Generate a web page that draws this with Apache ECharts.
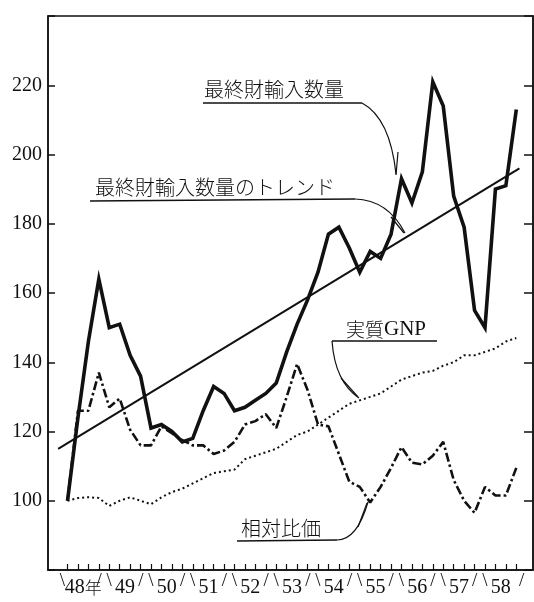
<!DOCTYPE html>
<html><head><meta charset="utf-8">
<script src="https://cdn.jsdelivr.net/npm/echarts@6/dist/echarts.min.js"></script>
<style>html,body{margin:0;padding:0;background:#fff}#c{width:534px;height:602px}</style>
</head><body><div id="c"></div>
<script>
// quarters 1948Q1 .. 1958Q4 (index 0..43)
const quarterCount = 44;
const yearLabels = ['48年','49','50','51','52','53','54','55','56','57','58'];
const yTicks = [100,120,140,160,180,200,220];
const importVals = [100,124,146,164,150,151,142,136,121,122,120,117,118,126,133,131,126,127,129,131,134,143,151,158,166,177,179,173,166,172,170,177,193,186,195,221,214,188,179,155,150,190,191,213];
const relPriceVals = [100,126,126,137,127,129.5,120.5,116,116,121.5,119.5,117.5,116,116,113.5,114.5,117,122,123,125,121,130,139.5,132,122,121.5,113.5,105.5,104,99.5,104,109.5,115.5,111,110.5,113,117,106,100,96.5,104,101.5,101.5,109.5];
const gnpVals = [100,100.8,101,100.8,98.5,100,101,100,99,101,102.5,103.5,105,106.5,108,108.5,109,112,113,114,115,117,119,120,122,124,126,128,129,130,131,133,135,136,137,137.5,139,140,142,142,143,144,146,147];
const trendQuarters = [-0.9, 43.3];
const trendVals = [115, 196];

const pairs = vals => vals.map((v,i)=>[i,v]);
const quarterTicks = Array.from({length: quarterCount}, (_,i)=>i);
const yearCenters = yearLabels.map((_,k)=>1.5+4*k);
const yearBounds = Array.from({length: yearLabels.length+1}, (_,k)=>-0.5+4*k);

const serif = '"Liberation Serif", "DejaVu Serif", serif';
const cjk = '"Noto Sans CJK JP", sans-serif';

const chart = echarts.init(document.getElementById('c'), null, {renderer:'canvas'});
const xBase = {type:'value', min:-1.87, max:44.6, gridIndex:0, splitLine:{show:false}};
chart.setOption({
  animation:false,
  backgroundColor:'#fff',
  grid:{left:48, right:1, top:16, bottom:32, show:true, borderColor:'#111', borderWidth:1.5, backgroundColor:'transparent'},
  xAxis:[
    Object.assign({}, xBase, {
      position:'bottom',
      axisLine:{show:true, onZero:false, lineStyle:{color:'#111', width:1.5}},
      axisTick:{show:true, inside:true, length:6, customValues:quarterTicks, lineStyle:{color:'#111', width:1.2}},
      axisLabel:{show:true, customValues:yearCenters, margin:8,
        formatter:v=>{const k=Math.round((v-1.5)/4); const s=yearLabels[k]||''; return s.endsWith('年')? '{n|'+s.slice(0,-1)+'}{c|年}' : '{n|'+s+'}';},
        rich:{n:{fontFamily:serif, fontSize:20, color:'#111'}, c:{fontFamily:cjk, fontSize:17, fontWeight:300, color:'#111'}}}
    }),
    Object.assign({}, xBase, {
      position:'bottom',
      axisLine:{show:false, onZero:false}, axisTick:{show:false},
      axisLabel:{show:true, customValues:yearBounds, margin:2, fontFamily:serif, fontSize:19, color:'#111',
        formatter:v=>{const k=Math.round((v+0.5)/4); if(k===0) return '\\'; if(k===yearLabels.length) return '/'; return '/ \\';}}
    })
  ],
  yAxis:[
    {type:'value', min:80, max:240, interval:20, position:'left',
     axisLine:{show:true, onZero:false, lineStyle:{color:'#111', width:1.5}},
     axisTick:{show:true, inside:true, length:7, lineStyle:{color:'#111', width:1.5}},
     axisLabel:{margin:6, fontFamily:serif, fontSize:20, color:'#111',
       formatter:v=> yTicks.indexOf(v)>=0 ? String(v) : ''},
     splitLine:{show:false}},
    {type:'value', min:80, max:240, interval:20, position:'right',
     axisLine:{show:true, onZero:false, lineStyle:{color:'#111', width:1.5}},
     axisTick:{show:true, inside:true, length:9, lineStyle:{color:'#111', width:1.5}},
     axisLabel:{show:false}, splitLine:{show:false}}
  ],
  series:[
    {name:'最終財輸入数量のトレンド', type:'line', data:trendQuarters.map((q,i)=>[q,trendVals[i]]), symbol:'none',
     lineStyle:{color:'#111', width:2}},
    {name:'実質GNP', type:'line', data:pairs(gnpVals), symbol:'none',
     lineStyle:{color:'#111', width:2, type:[2,3]}},
    {name:'相対比価', type:'line', data:pairs(relPriceVals), symbol:'none',
     lineStyle:{color:'#111', width:2.6, type:[9,3,2.5,3]}},
    {name:'最終財輸入数量', type:'line', data:pairs(importVals), symbol:'none',
     lineStyle:{color:'#111', width:3.6, join:'miter'}}
  ],
  graphic:[
    {type:'text', left:204, top:79, style:{text:'最終財輸入数量', fontFamily:cjk, fontWeight:300, fontSize:20, fill:'#111'}},
    {type:'line', shape:{x1:203,y1:103,x2:362,y2:103}, style:{stroke:'#111', lineWidth:1.5}},
    {type:'bezierCurve', shape:{x1:362,y1:103,x2:396,y2:174,cpx1:390,cpy1:118}, style:{stroke:'#111', lineWidth:1.2, fill:null}},
    {type:'line', shape:{x1:398,y1:152,x2:396,y2:175}, style:{stroke:'#111', lineWidth:1.2}},

    {type:'text', left:95, top:177, style:{text:'最終財輸入数量のトレンド', fontFamily:cjk, fontWeight:300, fontSize:20, fill:'#111'}},
    {type:'line', shape:{x1:90,y1:201,x2:355,y2:199}, style:{stroke:'#111', lineWidth:1.5}},
    {type:'bezierCurve', shape:{x1:355,y1:199,x2:405,y2:233,cpx1:388,cpy1:200}, style:{stroke:'#111', lineWidth:1.2, fill:null}},
    {type:'line', shape:{x1:391,y1:217,x2:404,y2:233}, style:{stroke:'#111', lineWidth:1.2}},

    {type:'text', left:346, top:319, style:{rich:{a:{fontFamily:cjk, fontWeight:300, fontSize:19, fill:'#111'}, b:{fontFamily:serif, fontSize:21, fill:'#111'}}, text:'{a|実質}{b|GNP}'}},
    {type:'line', shape:{x1:332,y1:341,x2:437,y2:341}, style:{stroke:'#111', lineWidth:1.5}},
    {type:'bezierCurve', shape:{x1:332,y1:341,x2:359,y2:398,cpx1:335,cpy1:382}, style:{stroke:'#111', lineWidth:1.2, fill:null}},
    {type:'line', shape:{x1:341,y1:378,x2:358,y2:397}, style:{stroke:'#111', lineWidth:1.2}},

    {type:'text', left:241, top:518, style:{text:'相対比価', fontFamily:cjk, fontWeight:300, fontSize:20, fill:'#111'}},
    {type:'line', shape:{x1:237,y1:541,x2:337,y2:540}, style:{stroke:'#111', lineWidth:1.5}},
    {type:'bezierCurve', shape:{x1:337,y1:540,x2:368,y2:502,cpx1:357,cpy1:540}, style:{stroke:'#111', lineWidth:1.2, fill:null}},
    {type:'line', shape:{x1:358,y1:527,x2:367,y2:503}, style:{stroke:'#111', lineWidth:1.2}}
  ]
});
</script>
</body></html>
